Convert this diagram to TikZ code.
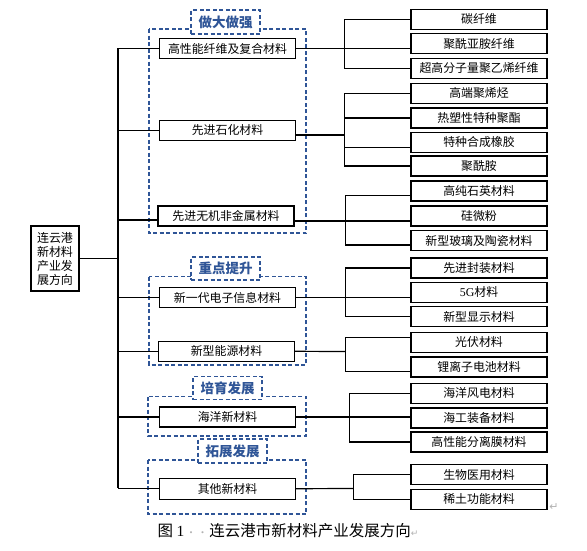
\documentclass[tikz,border=0pt]{standalone}
\usepackage{fontspec}
\setmainfont{Noto Sans CJK SC}
\newfontfamily\serifnum{Liberation Serif}
\newfontfamily\dejavu{DejaVu Sans}
\definecolor{grpblue}{RGB}{47,85,151}
\begin{document}
\begin{tikzpicture}[x=1pt,y=-1pt,
  box/.style={draw=black, line width=1.4pt, fill=white, minimum width=136pt, minimum height=20pt, inner sep=0pt, font=\fontsize{11.9}{12}\selectfont},
  grp/.style={draw=grpblue, dash pattern=on 4pt off 2.5pt, line width=1.2pt},
  tag/.style={grp, fill=white, text=grpblue, font=\fontsize{13.5}{14}\selectfont\bfseries, minimum width=69pt, minimum height=24pt, inner sep=0pt},
  conn/.style={line width=1.2pt, draw=black}]
\useasboundingbox (0,0) rectangle (587,550);

% groups
\draw[grp] (149,29) rectangle (306,233);
\draw[grp] (149,276.7) rectangle (306,365);
\draw[grp] (148,396.7) rectangle (306,436);
\draw[grp] (148,460) rectangle (306,514);
\node[tag] (t1) at (225.5,22) {做大做强};
\node[tag, minimum height=23pt] (t2) at (225.5,268.5) {重点提升};
\node[tag, minimum height=23pt] (t3) at (227.5,388.3) {培育发展};
\node[tag] (t4) at (232.5,451) {拓展发展};

% root
\node[draw=black, line width=1.4pt, fill=white, minimum width=48pt, minimum height=65pt, inner sep=0pt, align=center, font=\fontsize{12}{14}\selectfont] (root) at (55,258.5) {连云港\\新材料\\产业发\\展方向};

% level 2
\node[box] (b1) at (227.5,48.5) {高性能纤维及复合材料};
\node[box] (b2) at (227.5,130.5) {先进石化材料};
\node[box] (b3) at (226,216) {先进无机非金属材料};
\node[box] (b4) at (227.5,297.5) {新一代电子信息材料};
\node[box] (b5) at (226.5,351.3) {新型能源材料};
\node[box] (b6) at (227.5,417) {海洋新材料};
\node[box, minimum height=21pt] (b7) at (227.5,488.7) {其他新材料};

% leaves
\node[box] (l1) at (479,19.2) {碳纤维};
\node[box] (l2) at (479,43.7) {聚酰亚胺纤维};
\node[box] (l3) at (479,68.5) {超高分子量聚乙烯纤维};
\node[box] (l4) at (479,93.3) {高端聚烯烃};
\node[box] (l5) at (479,118) {热塑性特种聚酯};
\node[box] (l6) at (479,142.3) {特种合成橡胶};
\node[box] (l7) at (479,166) {聚酰胺};
\node[box] (l8) at (479,191) {高纯石英材料};
\node[box] (l9) at (479,216) {硅微粉};
\node[box] (l10) at (479,240.7) {新型玻璃及陶瓷材料};
\node[box] (l11) at (479,268) {先进封装材料};
\node[box] (l12) at (479,292.3) {{\serifnum 5G}材料};
\node[box] (l13) at (479,316.7) {新型显示材料};
\node[box] (l14) at (479,342.3) {光伏材料};
\node[box] (l15) at (479,367) {锂离子电池材料};
\node[box] (l16) at (479,393.3) {海洋风电材料};
\node[box] (l17) at (479,418) {海工装备材料};
\node[box] (l18) at (479,442) {高性能分离膜材料};
\node[box] (l19) at (479,474.5) {生物医用材料};
\node[box] (l20) at (479,499.3) {稀土功能材料};

% trunk
\coordinate (tTop) at (118,48.3);
\coordinate (tBot) at (118,488.3);
\draw[conn] (tTop) -- (tBot);
\draw[conn] (root.east) -- (root.east -| tTop);
\draw[conn] (b1.west -| tTop) -- (b1.west);
\draw[conn] (b2.west -| tTop) -- (b2.west);
\coordinate (b3w) at ([yshift=-4pt]b3.west);
\draw[conn] (b3w -| tTop) -- (b3w);
\draw[conn] (b4.west -| tTop) -- (b4.west);
\draw[conn] (b5.west -| tTop) -- (b5.west);
\draw[conn] (b6.west -| tTop) -- (b6.west);
\draw[conn] (b7.west -| tTop) -- (b7.west);

% group 1
\coordinate (g1) at (344.5,48.5);
\draw[conn] (b1.east) -- (b1.east -| l2.west);
\draw[conn] (l1.west) -| (g1) |- (l3.west);

% group 2
\coordinate (b2e) at ([yshift=-4.5pt]b2.east);
\coordinate (g2) at (344.5,135);
\draw[conn] (b2e) -- (g2);
\draw[conn] (l4.west) -| (g2) |- (l7.west);
\draw[conn] (g2 |- l5.west) -- (l5.west);
\coordinate (l6p) at ([yshift=-5.4pt]l6.west);
\draw[conn] (l6p -| g2) -- (l6p);

% group 3
\coordinate (b3e) at ([yshift=-5pt]b3.east);
\coordinate (l8p) at ([yshift=-4.7pt]l8.west);
\coordinate (l9p) at ([yshift=-5pt]l9.west);
\coordinate (l10p) at ([yshift=-4.3pt]l10.west);
\coordinate (g3) at (345.7,221);
\draw[conn] (b3e) -- (l9p);
\draw[conn] (l8p) -| (g3) |- (l10p);

% group 4
\coordinate (g4) at (345.7,297.5);
\draw[conn] (b4.east) -- (b4.east -| l12.west);
\draw[conn] (l11.west) -| (g4) |- (l13.west);

% group 5
\coordinate (l14p) at ([yshift=4.6pt]l14.west);
\coordinate (l15p) at ([yshift=-4.7pt]l15.west);
\coordinate (g5) at (345.7,351.5);
\draw[conn] (b5.east) -- (g5);
\draw[conn] (l14p) -| (g5) |- (l15p);

% group 6
\coordinate (g6) at (349.3,417.7);
\draw[conn] (b6.east) -- (b6.east -| l17.west);
\draw[conn] (l16.west) -| (g6) |- (l18.west);

% group 7
\coordinate (g7) at (353.3,488.5);
\draw[conn] (b7.east) -- (g7);
\draw[conn] (l19.west) -| (g7) |- (l20.west);

% caption and marks
\node[inner sep=0pt, font=\fontsize{15.5}{16}\selectfont] (cap) at (288,531) {图 {\serifnum 1}\textcolor{gray!60}{\fontsize{10}{10}\selectfont\,·\,·\,}连云港市新材料产业发展方向\textcolor{gray!60}{\dejavu\fontsize{9}{9}\selectfont ↵}};
\node[inner sep=0pt, text=gray!60, font=\dejavu\fontsize{11}{11}\selectfont] (ret) at (554,507) {↵};
\end{tikzpicture}
\end{document}
